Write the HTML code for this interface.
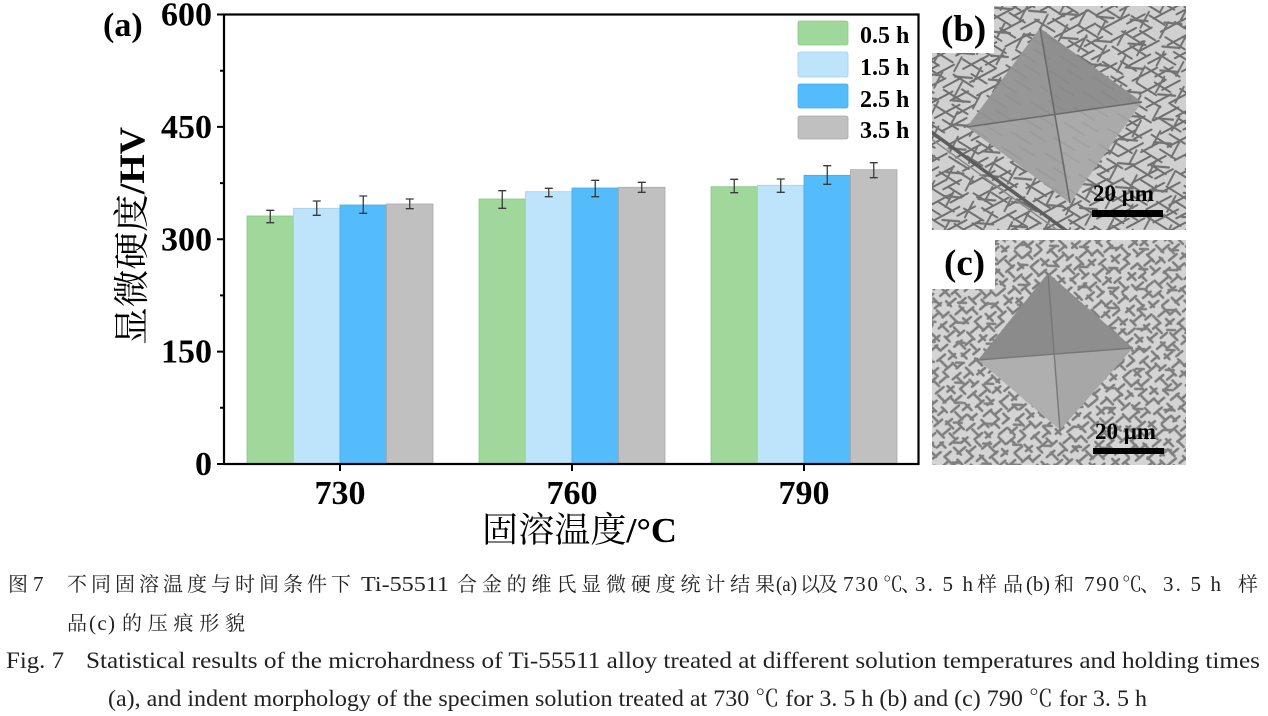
<!DOCTYPE html>
<html>
<head>
<meta charset="utf-8">
<style>
  html, body { margin: 0; padding: 0; background: #ffffff; }
  svg { display: block; }
</style>
</head>
<body>
<svg width="1268" height="716" viewBox="0 0 1268 716" xmlns="http://www.w3.org/2000/svg">
  <defs>
    <!-- SEM texture (b) -->
    <pattern id="pb1" width="48" height="15" patternUnits="userSpaceOnUse" patternTransform="rotate(-28)">
      <g stroke="#6e6e6e" stroke-width="2" stroke-linecap="round">
        <line x1="2" y1="3" x2="30" y2="3"/>
        <line x1="24" y1="10" x2="44" y2="10"/>
      </g>
    </pattern>
    <pattern id="pb2" width="40" height="18" patternUnits="userSpaceOnUse" patternTransform="rotate(32) translate(5,3)">
      <g stroke="#707070" stroke-width="2" stroke-linecap="round">
        <line x1="3" y1="5" x2="26" y2="5"/>
        <line x1="18" y1="13" x2="36" y2="13"/>
      </g>
    </pattern>
    <pattern id="pb3" width="50" height="22" patternUnits="userSpaceOnUse" patternTransform="rotate(-62) translate(7,2)">
      <g stroke="#747474" stroke-width="2" stroke-linecap="round">
        <line x1="4" y1="6" x2="22" y2="6"/>
        <line x1="28" y1="16" x2="44" y2="16"/>
      </g>
    </pattern>
    <pattern id="pb4" width="34" height="24" patternUnits="userSpaceOnUse" patternTransform="rotate(5) translate(3,9)">
      <g stroke="#727272" stroke-width="2.2" stroke-linecap="round">
        <line x1="3" y1="8" x2="20" y2="8"/>
      </g>
    </pattern>
    <!-- SEM texture (c) -->
    <pattern id="pc1" width="22" height="12" patternUnits="userSpaceOnUse" patternTransform="rotate(-40)">
      <g stroke="#7c7c7c" stroke-width="2.5" stroke-linecap="round">
        <line x1="2" y1="3" x2="12" y2="3"/>
        <line x1="12" y1="9" x2="20" y2="9"/>
      </g>
    </pattern>
    <pattern id="pc2" width="24" height="13" patternUnits="userSpaceOnUse" patternTransform="rotate(45) translate(4,2)">
      <g stroke="#7e7e7e" stroke-width="2.5" stroke-linecap="round">
        <line x1="3" y1="4" x2="13" y2="4"/>
        <line x1="14" y1="10" x2="21" y2="10"/>
      </g>
    </pattern>
    <pattern id="pc3" width="30" height="20" patternUnits="userSpaceOnUse" patternTransform="rotate(2) translate(6,4)">
      <g stroke="#808080" stroke-width="2.5" stroke-linecap="round">
        <line x1="2" y1="5" x2="10" y2="5"/>
      </g>
    </pattern>
    <clipPath id="clipb"><rect x="932" y="6" width="254" height="224"/></clipPath>
    <clipPath id="clipc"><rect x="932" y="240" width="254" height="225"/></clipPath>
  </defs>

  <rect x="0" y="0" width="1268" height="716" fill="#ffffff"/>

  <!-- ======== Bars ======== -->
  <g stroke-width="0.8">
    <!-- 730 -->
    <rect x="247" y="216" width="46.5" height="248" fill="#a0d89c" stroke="#8cc48a"/>
    <rect x="293.5" y="208.3" width="46.5" height="255.7" fill="#bde4fb" stroke="#a5cde6"/>
    <rect x="340" y="205" width="46.5" height="259" fill="#55bcfb" stroke="#45a8e4"/>
    <rect x="386.5" y="204" width="46.5" height="260" fill="#c0c0c0" stroke="#a8a8a8"/>
    <!-- 760 -->
    <rect x="479" y="199" width="46.5" height="265" fill="#a0d89c" stroke="#8cc48a"/>
    <rect x="525.5" y="191.7" width="46.5" height="272.3" fill="#bde4fb" stroke="#a5cde6"/>
    <rect x="572" y="188" width="46.5" height="276" fill="#55bcfb" stroke="#45a8e4"/>
    <rect x="618.5" y="187.3" width="46.5" height="276.7" fill="#c0c0c0" stroke="#a8a8a8"/>
    <!-- 790 -->
    <rect x="711" y="186.7" width="46.5" height="277.3" fill="#a0d89c" stroke="#8cc48a"/>
    <rect x="757.5" y="185.3" width="46.5" height="278.7" fill="#bde4fb" stroke="#a5cde6"/>
    <rect x="804" y="175.3" width="46.5" height="288.7" fill="#55bcfb" stroke="#45a8e4"/>
    <rect x="850.5" y="169.7" width="46.5" height="294.3" fill="#c0c0c0" stroke="#a8a8a8"/>
  </g>

  <!-- Error bars -->
  <path fill="none" stroke="#3a3a3a" stroke-width="1.3" d="
    M270.25,210.3 V222.7 M266.25,210.3 H274.25 M266.25,222.7 H274.25
    M316.75,201 V215.3 M312.75,201 H320.75 M312.75,215.3 H320.75
    M363.25,196 V213.3 M359.25,196 H367.25 M359.25,213.3 H367.25
    M409.75,199 V208.7 M405.75,199 H413.75 M405.75,208.7 H413.75
    M502.25,190.7 V208.3 M498.25,190.7 H506.25 M498.25,208.3 H506.25
    M548.75,188.3 V196.7 M544.75,188.3 H552.75 M544.75,196.7 H552.75
    M595.25,180.3 V196.7 M591.25,180.3 H599.25 M591.25,196.7 H599.25
    M641.75,182.3 V192.3 M637.75,182.3 H645.75 M637.75,192.3 H645.75
    M734.25,179.3 V192.7 M730.25,179.3 H738.25 M730.25,192.7 H738.25
    M780.75,179 V192.3 M776.75,179 H784.75 M776.75,192.3 H784.75
    M827.25,165.7 V184.3 M823.25,165.7 H831.25 M823.25,184.3 H831.25
    M873.75,162.7 V177.7 M869.75,162.7 H877.75 M869.75,177.7 H877.75"/>

  <!-- Axes frame -->
  <rect x="224" y="14.5" width="694.5" height="449.5" fill="none" stroke="#000" stroke-width="2.2"/>
  <!-- Ticks -->
  <path stroke="#000" stroke-width="2" fill="none" d="
    M217,14.5 H224 M217,126.9 H224 M217,239.25 H224 M217,351.6 H224 M217,464 H224
    M220,70.7 H224 M220,183.1 H224 M220,295.4 H224 M220,407.8 H224
    M340,464 V471 M572,464 V471 M804,464 V471"/>

  <!-- Y tick labels -->
  <g font-family="'Liberation Serif', serif" font-weight="bold" font-size="34" fill="#000" text-anchor="end">
    <text x="212" y="25.5">600</text>
    <text x="212" y="138">450</text>
    <text x="212" y="250.5">300</text>
    <text x="212" y="362.5">150</text>
    <text x="212" y="475">0</text>
  </g>
  <!-- X tick labels -->
  <g font-family="'Liberation Serif', serif" font-weight="bold" font-size="34" fill="#000" text-anchor="middle">
    <text x="340" y="504">730</text>
    <text x="572" y="504">760</text>
    <text x="804" y="504">790</text>
  </g>

  <!-- Axis titles -->
  <text x="482" y="542" font-family="'Liberation Serif', 'Noto Serif CJK SC', serif" font-size="35" fill="#000" textLength="195" lengthAdjust="spacingAndGlyphs">固溶温度<tspan font-weight="bold">/°C</tspan></text>
  <text transform="translate(144,345) rotate(-90)" x="0" y="0" font-family="'Liberation Serif', 'Noto Serif CJK SC', serif" font-size="36" fill="#000" textLength="218" lengthAdjust="spacingAndGlyphs">显微硬度<tspan font-weight="bold">/HV</tspan></text>

  <!-- (a) -->
  <text x="103" y="36" font-family="'Liberation Serif', serif" font-weight="bold" font-size="34" fill="#000">(a)</text>

  <!-- Legend -->
  <g stroke-width="0.8">
    <rect x="798" y="21" width="50" height="24" rx="2" fill="#a0d89c" stroke="#8cc48a"/>
    <rect x="798" y="52" width="50" height="25" rx="2" fill="#bde4fb" stroke="#a5cde6"/>
    <rect x="798" y="84" width="50" height="24" rx="2" fill="#55bcfb" stroke="#45a8e4"/>
    <rect x="798" y="116" width="50" height="23" rx="2" fill="#c0c0c0" stroke="#a8a8a8"/>
  </g>
  <g font-family="'Liberation Serif', serif" font-weight="bold" font-size="24" fill="#000">
    <text x="860" y="43">0.5 h</text>
    <text x="860" y="75">1.5 h</text>
    <text x="860" y="107">2.5 h</text>
    <text x="860" y="138">3.5 h</text>
  </g>

  <!-- ======== Image (b) ======== -->
  <g clip-path="url(#clipb)">
    <rect x="932" y="6" width="254" height="224" fill="#d0d0d0"/>
    <rect x="932" y="6" width="254" height="224" fill="url(#pb1)"/>
    <rect x="932" y="6" width="254" height="224" fill="url(#pb2)"/>
    <rect x="932" y="6" width="254" height="224" fill="url(#pb3)"/>
    <rect x="932" y="6" width="254" height="224" fill="url(#pb4)"/>
    <path d="M930,131 L1068,232" stroke="#5e5e5e" stroke-width="3.5" fill="none"/>
    <path d="M930,138 L1060,232" stroke="#8a8a8a" stroke-width="1.5" fill="none"/>
    <!-- indent -->
    <polygon points="967,127 1040,28 1055,114.5" fill="#979797"/>
    <polygon points="1040,28 1142,102 1055,114.5" fill="#8f8f8f"/>
    <polygon points="1142,102 1070,203 1055,114.5" fill="#aaaaaa"/>
    <polygon points="1070,203 967,127 1055,114.5" fill="#a3a3a3"/>
    <polygon points="967,127 1040,28 1142,102 1070,203" fill="url(#pb2)" opacity="0.15"/>
    <path d="M1040,28 L1070,203 M967,127 L1142,102" stroke="#6a6a6a" stroke-width="1.6" fill="none"/>
    <!-- scale -->
    <text x="1093" y="201" font-family="'Liberation Serif', serif" font-weight="bold" font-size="23" fill="#000">20 μm</text>
    <rect x="1092" y="210" width="71" height="7" fill="#000"/>
  </g>
  <rect x="932" y="6" width="62" height="47" fill="#ffffff"/>
  <text x="941" y="41" font-family="'Liberation Serif', serif" font-weight="bold" font-size="37" fill="#000">(b)</text>

  <!-- ======== Image (c) ======== -->
  <g clip-path="url(#clipc)">
    <rect x="932" y="240" width="254" height="225" fill="#d4d4d4"/>
    <rect x="932" y="240" width="254" height="225" fill="url(#pc1)"/>
    <rect x="932" y="240" width="254" height="225" fill="url(#pc2)"/>
    <rect x="932" y="240" width="254" height="225" fill="url(#pc3)"/>
    <!-- indent -->
    <polygon points="978,360 1048,273 1054,354" fill="#8b8b8b"/>
    <polygon points="1048,273 1133,348 1054,354" fill="#8e8e8e"/>
    <polygon points="1133,348 1060,430 1054,354" fill="#a7a7a7"/>
    <polygon points="1060,430 978,360 1054,354" fill="#afafaf"/>
    <path d="M1048,273 L1060,430 M978,360 L1133,348" stroke="#777" stroke-width="1.4" fill="none"/>
    <!-- scale -->
    <text x="1095" y="439" font-family="'Liberation Serif', serif" font-weight="bold" font-size="23" fill="#000">20 μm</text>
    <rect x="1093" y="448" width="71" height="6" fill="#000"/>
  </g>
  <rect x="932" y="240" width="63" height="49" fill="#ffffff"/>
  <text x="944" y="275" font-family="'Liberation Serif', serif" font-weight="bold" font-size="37" fill="#000">(c)</text>

  <!-- ======== Caption ======== -->
  <!-- Chinese line 1 -->
  <g fill="#222" font-family="'Noto Serif CJK SC', serif" font-size="20">
    <text x="8" y="591">图</text>
    <text x="67" y="591" textLength="284" lengthAdjust="spacing">不同固溶温度与时间条件下</text>
    <text x="457" y="591" textLength="318" lengthAdjust="spacing">合金的维氏显微硬度统计结果</text>
    <text x="800" y="591" textLength="38" lengthAdjust="spacing">以及</text>
    <text x="883" y="591">℃</text>
    <text x="901" y="591">、</text>
    <text x="977" y="591" textLength="46" lengthAdjust="spacing">样品</text>
    <text x="1054" y="591">和</text>
    <text x="1122" y="591">℃</text>
    <text x="1140" y="591">、</text>
    <text x="1238" y="591">样</text>
    <!-- line 2 -->
    <text x="67" y="630">品</text>
    <text x="122" y="630" textLength="123" lengthAdjust="spacing">的压痕形貌</text>
  </g>
  <g fill="#222" font-family="'Liberation Serif', serif" font-size="21">
    <text x="33" y="591">7</text>
    <text x="361" y="591" textLength="88" lengthAdjust="spacingAndGlyphs">Ti-55511</text>
    <text x="776" y="591" textLength="21" lengthAdjust="spacingAndGlyphs">(a)</text>
    <text x="843" y="591" textLength="35" lengthAdjust="spacing">730</text>
    <text x="915" y="591" textLength="58" lengthAdjust="spacing">3. 5 h</text>
    <text x="1026" y="591" textLength="24" lengthAdjust="spacingAndGlyphs">(b)</text>
    <text x="1084" y="591" textLength="35" lengthAdjust="spacing">790</text>
    <text x="1163" y="591" textLength="58" lengthAdjust="spacing">3. 5 h</text>
    <text x="89" y="630" textLength="26" lengthAdjust="spacing">(c)</text>
  </g>
  <!-- English lines -->
  <g fill="#222" font-family="'Liberation Serif', 'Noto Serif CJK SC', serif">
    <text x="6" y="668" font-size="23" textLength="58" lengthAdjust="spacingAndGlyphs">Fig. 7</text>
    <text x="86" y="668" font-size="23" textLength="1174" lengthAdjust="spacingAndGlyphs">Statistical results of the microhardness of Ti-55511 alloy treated at different solution temperatures and holding times</text>
    <text x="108" y="706" font-size="23" textLength="1039" lengthAdjust="spacingAndGlyphs">(a), and indent morphology of the specimen solution treated at 730 ℃ for 3. 5 h (b) and (c) 790 ℃ for 3. 5 h</text>
  </g>
</svg>
</body>
</html>
